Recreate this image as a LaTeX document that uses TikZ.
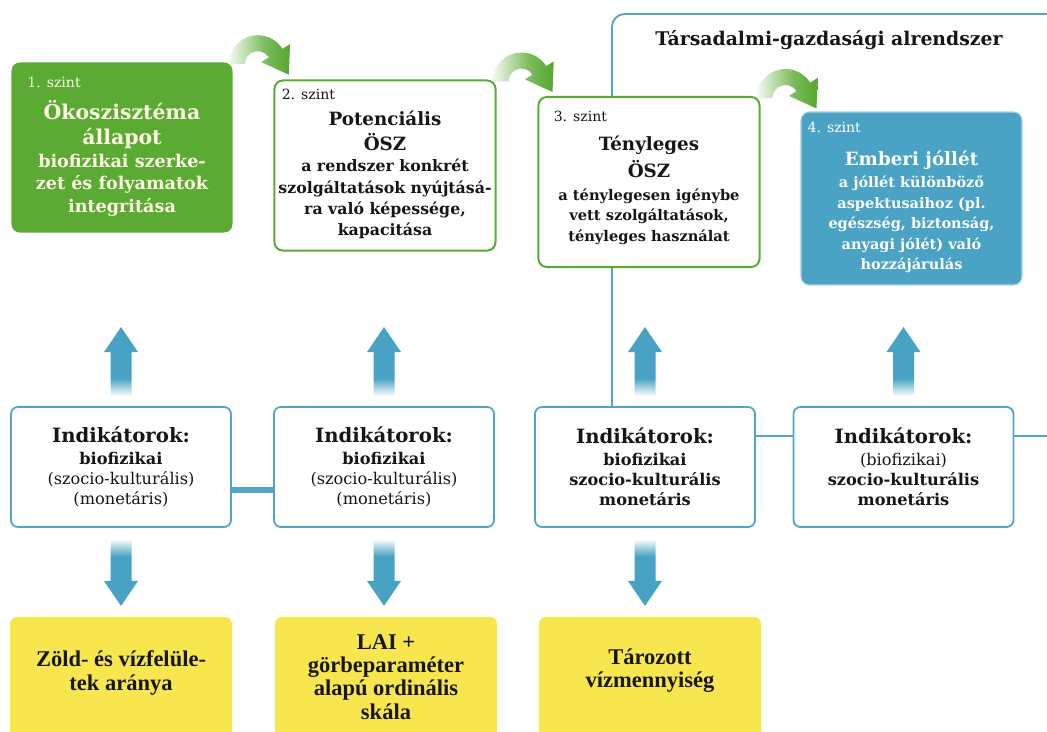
\documentclass[tikz,border=0pt]{standalone}
\usepackage{fontspec}
\setmainfont{DejaVu Serif}
\newfontfamily\yelfont{Liberation Serif}
\usepackage{tikz}
\usetikzlibrary{calc,shadings}
\definecolor{lvgreen}{RGB}{90,170,52}
\definecolor{lvblue}{RGB}{74,162,196}
\definecolor{lnblue}{RGB}{80,165,200}
\definecolor{arblue}{RGB}{72,162,196}
\definecolor{indyellow}{RGB}{248,230,78}
\definecolor{cream}{RGB}{255,251,228}
\definecolor{txtdark}{RGB}{22,22,22}
\pgfdeclareverticalshading{upfade}{100bp}{color(0bp)=(white); color(25bp)=(white); color(38bp)=(arblue); color(100bp)=(arblue)}
\pgfdeclareverticalshading{downfade}{100bp}{color(0bp)=(arblue); color(62bp)=(arblue); color(75bp)=(white); color(100bp)=(white)}
\pgfdeclarehorizontalshading{bendfade}{100bp}{color(0bp)=(lvgreen!6); color(25bp)=(lvgreen!6); color(55bp)=(lvgreen!80); color(72bp)=(lvgreen); color(100bp)=(lvgreen)}
\tikzset{
  lvbox/.style  ={rounded corners=6pt, inner sep=0pt, minimum width=5.525cm, minimum height=4.25cm},
  lvfill/.style ={lvbox, fill=lvgreen},
  lvline/.style ={lvbox, draw=lvgreen, line width=1.4pt, fill=white},
  lvblu/.style  ={lvbox, fill=lvblue, draw=lvblue!45, line width=0.8pt, minimum height=4.325cm},
  szint/.style  ={font=\fontsize{10}{12}\selectfont, inner sep=0pt, anchor=west},
  lvtxt/.style  ={align=center, inner sep=0pt},
  indbox/.style ={rounded corners=5pt, draw=lnblue, line width=1.3pt, fill=white, minimum width=5.5cm,
                  minimum height=3cm, align=center, text=txtdark, font=\bfseries\fontsize{11.5}{14.3}\selectfont},
  yelbox/.style ={rounded corners=5pt, fill=indyellow, inner sep=0pt, minimum width=5.55cm, minimum height=3.25cm},
  yeltxt/.style ={align=center, inner sep=0pt, text=txtdark, font=\yelfont\bfseries\fontsize{16}{16.5}\selectfont},
  ttl/.style    ={font=\bfseries\fontsize{13.4}{15}\selectfont, text=txtdark, inner sep=0pt},
  frameln/.style={draw=lnblue, line width=1.3pt, rounded corners=9pt},
  linkthin/.style ={draw=lnblue, line width=1.3pt},
  linkthick/.style={draw=lnblue, line width=3.6pt},
}
\newcommand\indhd{\fontsize{14}{15}\selectfont}

\begin{document}
\begin{tikzpicture}[x=0.025cm, y=-0.025cm]
  \clip (0,0) rectangle (1047,731);
  \coordinate (frameR) at (1052,14);
  \coordinate (edgeR) at (1052,436);

  % indicator row
  \node[indbox] (indA) at (121,467) {{\indhd Indikátorok:}\\[1pt] biofizikai\\ {\mdseries (szocio-kulturális)}\\ {\mdseries (monetáris)}};
  \node[indbox] (indB) at (384,467) {{\indhd Indikátorok:}\\[1pt] biofizikai\\ {\mdseries (szocio-kulturális)}\\ {\mdseries (monetáris)}};
  \node[indbox] (indC) at (645,467) {{\indhd Indikátorok:}\\[1pt] biofizikai\\ szocio-kulturális\\ monetáris};
  \node[indbox] (indD) at (903.5,467) {{\indhd Indikátorok:}\\[1pt] {\mdseries (biofizikai)}\\ szocio-kulturális\\ monetáris};

  \draw[linkthick] ($(indA.east)+(0,23)$) -- ($(indB.west)+(0,23)$);
  \draw[linkthin] ($(indC.east)+(0,-31)$) -- ($(indD.west)+(0,-31)$);
  \draw[linkthin] ($(indD.east)+(0,-31)$) -- (edgeR);

  % socio-economic subsystem
  \draw[frameln] ($(indC.north)+(-33,0)$) |- (frameR);
  \node[ttl] (title) at (829,40) {Társadalmi-gazdasági alrendszer};

  % levels
  \node[lvfill] (lvA) at (122,147.5) {};
  \node[szint, text=cream] (labA) at ($(lvA.north west)+(16,20)$) {1. szint};
  \node[lvtxt, text=cream, font=\bfseries\fontsize{12.5}{16}\selectfont] (txtA) at ($(lvA.center)+(0,10.5)$)
    {{\fontsize{14.5}{16}\selectfont Ökoszisztéma}\\[2pt] {\fontsize{14.5}{16}\selectfont állapot}\\ biofizikai szerke-\\ zet és folyamatok\\ integritása};

  \node[lvline] (lvB) at (385,165.5) {};
  \node[szint, text=txtdark] (labB) at ($(lvB.north west)+(8,15)$) {2. szint};
  \node[lvtxt, text=txtdark, font=\bfseries\fontsize{11.2}{15.2}\selectfont] (txtB) at ($(lvB.center)+(0,9.5)$)
    {{\fontsize{13}{15}\selectfont Potenciális}\\[2.6pt] {\fontsize{13}{15}\selectfont ÖSZ}\\ a rendszer konkrét\\ szolgáltatások nyújtásá-\\ ra való képessége,\\ kapacitása};

  \node[lvline] (lvC) at (649,182) {};
  \node[szint, text=txtdark] (labC) at ($(lvC.north west)+(16,20)$) {3. szint};
  \node[lvtxt, text=txtdark, font=\bfseries\fontsize{10.4}{14.6}\selectfont] (txtC) at ($(lvC.center)+(0,8)$)
    {{\fontsize{13}{15}\selectfont Tényleges}\\[3pt] {\fontsize{13}{15}\selectfont ÖSZ}\\[1.8pt] a ténylegesen igénybe\\ vett szolgáltatások,\\ tényleges használat};

  \node[lvblu] (lvD) at (911.5,198.5) {};
  \node[szint, text=white] (labD) at ($(lvD.north west)+(7,16)$) {4. szint};
  \node[lvtxt, text=white, font=\bfseries\fontsize{10.3}{14.6}\selectfont] (txtD) at ($(lvD.center)+(0,13.5)$)
    {{\fontsize{13}{15}\selectfont Emberi jóllét}\\[1pt] a jóllét különböző\\ aspektusaihoz (pl.\\ egészség, biztonság,\\ anyagi jólét) való\\ hozzájárulás};

  % green bends between levels
  \foreach \a in {lvA,lvB,lvC}
    \shade[shading=bendfade, shift={($(\a.north east)+(25,2)$)}] (180:29) arc[start angle=180, end angle=328, radius=29]
      -- (328:38) -- (31,10.5) -- (328:4) -- (328:13) arc[start angle=328, end angle=180, radius=13] -- cycle;

  % blue arrows
  \foreach \n in {indA,indB,indC,indD}
    \shade[shading=upfade] ($(\n.north)+(-10.5,-10)$) -- ++(0,-44) -- ++(-6.5,0) -- ($(\n.north)+(0,-79)$)
      -- ($(\n.north)+(17,-54)$) -- ++(-6.5,0) -- ($(\n.north)+(10.5,-10)$) -- cycle;
  \foreach \n in {indA,indB,indC}
    \shade[shading=downfade] ($(\n.south)+(-10.5,11)$) -- ++(0,42) -- ++(-6.5,0) -- ($(\n.south)+(0,78)$)
      -- ($(\n.south)+(17,53)$) -- ++(-6.5,0) -- ($(\n.south)+(10.5,11)$) -- cycle;

  % measured quantities
  \node[yelbox] (yelA) at (121,682) {};
  \node[yeltxt] (ytxtA) at ($(yelA.center)+(0,-9)$) {Zöld- és vízfelüle-\\ tek aránya};
  \node[yelbox] (yelB) at (386,682) {};
  \node[yeltxt] (ytxtB) at ($(yelB.center)+(0,-5)$) {LAI +\\ görbeparaméter\\ alapú ordinális\\ skála};
  \node[yelbox] (yelC) at (650,682) {};
  \node[yeltxt] (ytxtC) at ($(yelC.center)+(0,-11)$) {Tározott\\ vízmennyiség};
\end{tikzpicture}
\end{document}
